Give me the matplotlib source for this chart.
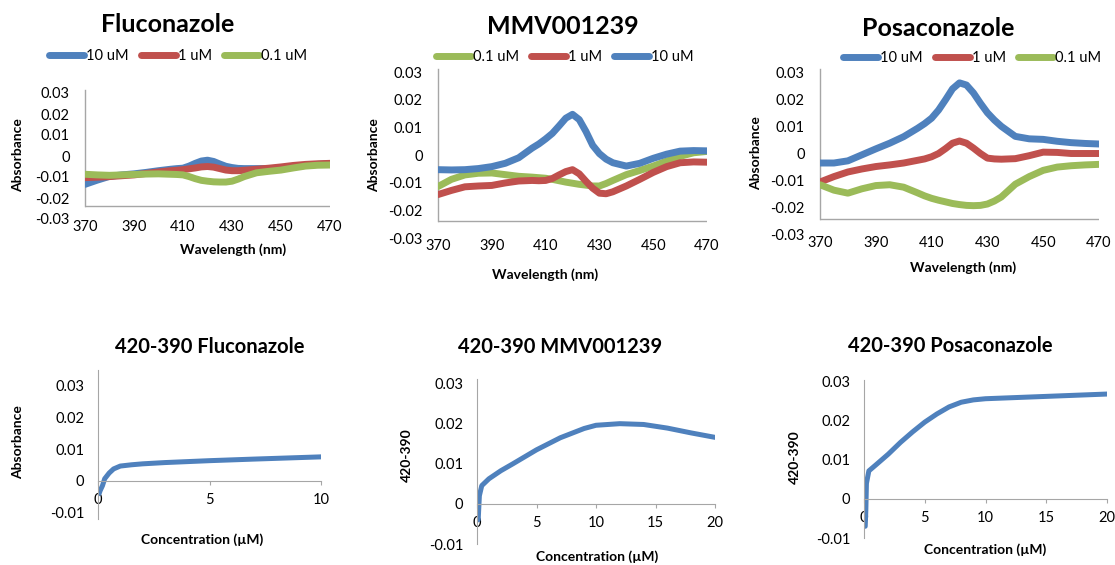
import matplotlib.pyplot as plt

W, H = 1115, 565
plt.rcParams['font.family'] = ['Lato', 'DejaVu Sans']

BLUE = '#4F81BD'
RED = '#C0504D'
GREEN = '#9BBB59'
AXIS = '#A6A6A6'

# wavelength scans (nm)
wl = [370, 375, 380, 385, 390, 395, 400, 405, 407.5, 410, 412.5, 415, 417.5, 420,
      422.5, 425, 427.5, 430, 432.5, 435, 440, 445, 450, 455, 460, 465, 470]

fluc_10 = [-0.0135, -0.0115, -0.0097, -0.009, -0.0085, -0.0078, -0.007, -0.0063, -0.006, -0.0058, -0.0048,
           -0.0035, -0.0024, -0.002, -0.0026, -0.0038, -0.0049, -0.0055, -0.0059, -0.006, -0.006, -0.006,
           -0.0058, -0.005, -0.0045, -0.004, -0.0037]
fluc_1 = [-0.0103, -0.0101, -0.0098, -0.0094, -0.009, -0.0083, -0.0076, -0.007, -0.0068, -0.0065, -0.0061,
          -0.0057, -0.0052, -0.005, -0.0053, -0.006, -0.0067, -0.007, -0.007, -0.0068, -0.0063, -0.0058,
          -0.0052, -0.0045, -0.004, -0.0037, -0.0035]
fluc_01 = [-0.0087, -0.009, -0.0092, -0.009, -0.0088, -0.0086, -0.0085, -0.0087, -0.0088, -0.009, -0.0098,
           -0.0108, -0.0116, -0.012, -0.0123, -0.0124, -0.0124, -0.012, -0.011, -0.0098, -0.008, -0.0073,
           -0.0067, -0.0057, -0.0048, -0.0044, -0.0043]

mmv_01 = [-0.0114, -0.0088, -0.0072, -0.0066, -0.0065, -0.0071, -0.0077, -0.008, -0.0082, -0.0084, -0.0088,
          -0.0093, -0.0098, -0.0102, -0.0106, -0.0109, -0.0112, -0.0112, -0.0103, -0.0092, -0.0071, -0.0056,
          -0.004, -0.0022, -0.0005, 0.0008, 0.0013]
mmv_1 = [-0.0143, -0.0128, -0.0115, -0.0112, -0.011, -0.0101, -0.0094, -0.0092, -0.0093, -0.0092, -0.0085,
         -0.0072, -0.006, -0.0053, -0.0068, -0.0095, -0.012, -0.0138, -0.014, -0.0133, -0.0112, -0.0088,
         -0.0063, -0.0042, -0.0028, -0.0025, -0.0026]
mmv_10 = [-0.0053, -0.0054, -0.0053, -0.0049, -0.0042, -0.003, -0.001, 0.0025, 0.004, 0.0058, 0.0078,
          0.0105, 0.0133, 0.0147, 0.0128, 0.0085, 0.0035, 0.0005, -0.0015, -0.0028, -0.004, -0.003,
          -0.0012, 0.0003, 0.0014, 0.0016, 0.0015]

posa_10 = [-0.0035, -0.0035, -0.0027, -0.0005, 0.0017, 0.0038, 0.0062, 0.0093, 0.011, 0.013, 0.016,
           0.0198, 0.0238, 0.026, 0.0252, 0.0223, 0.0185, 0.015, 0.0123, 0.01, 0.0063, 0.0054,
           0.0052, 0.0045, 0.004, 0.0037, 0.0035]
posa_1 = [-0.0105, -0.0085, -0.0068, -0.0057, -0.0048, -0.0042, -0.0035, -0.0025, -0.002, -0.0012, 0.0,
          0.0018, 0.0038, 0.0046, 0.0038, 0.002, 0.0, -0.0017, -0.002, -0.0021, -0.0019, -0.0008,
          0.0005, 0.0004, 0.0, 0.0, 0.0]
posa_01 = [-0.0115, -0.0135, -0.0146, -0.013, -0.0118, -0.0115, -0.0124, -0.0145, -0.0156, -0.0165, -0.0172,
           -0.0178, -0.0184, -0.0188, -0.0191, -0.0192, -0.0191, -0.0186, -0.0175, -0.016, -0.0113, -0.0085,
           -0.0062, -0.005, -0.0045, -0.0042, -0.004]

# 420-390 difference vs concentration (uM)
fluc_c = [0.05, 0.1, 0.2, 0.3, 0.5, 0.7, 1, 1.5, 2, 3, 5, 7, 10]
fluc_d = [-0.004, -0.003, -0.0015, 0.0007, 0.0025, 0.0038, 0.0047, 0.0051, 0.0054, 0.0058, 0.0064, 0.0069, 0.0076]

mmv_c = [0.1, 0.15, 0.2, 0.4, 1, 2, 3, 5, 7, 9, 10, 12, 14, 16, 18, 20]
mmv_d = [-0.004, -0.001, 0.002, 0.0045, 0.0062, 0.0082, 0.0099, 0.0134, 0.0164, 0.0187, 0.0195,
         0.0199, 0.0197, 0.0188, 0.0176, 0.0165]

posa_c = [0.1, 0.15, 0.2, 0.4, 1, 2, 3, 4, 5, 6, 7, 8, 9, 10, 15, 20]
posa_d = [-0.007, -0.003, 0.004, 0.0072, 0.0088, 0.0115, 0.0145, 0.0172, 0.0197, 0.0218, 0.0236,
          0.0248, 0.0254, 0.0257, 0.0263, 0.0269]

wl_ticks = [370, 390, 410, 430, 450, 470]
top_yticks = [-0.03, -0.02, -0.01, 0, 0.01, 0.02, 0.03]
top_ylabels = ['-0.03', '-0.02', '-0.01', '0', '0.01', '0.02', '0.03']
bot_yticks = [-0.01, 0, 0.01, 0.02, 0.03]
bot_ylabels = ['-0.01', '0', '0.01', '0.02', '0.03']

fig = plt.figure(figsize=(W / 100, H / 100), dpi=100)


def box(x0, y0, x1, y1):
    return [x0 / W, 1 - y1 / H, (x1 - x0) / W, (y1 - y0) / H]


def ftext(x, y, s, **kw):
    fig.text(x / W, 1 - y / H, s, ha='center', va='center', **kw)


def spectrum(rect, series, title, title_xy, leg_xy, ylab_xy, xlab_xy):
    ax = fig.add_axes(box(*rect))
    for label, vals, c in series:
        ax.plot(wl, vals, color=c, lw=5, label=label, solid_capstyle='round', solid_joinstyle='round')
    ax.set_xlim(370, 470)
    ax.set_ylim(-0.03, 0.03)
    for s in ax.spines.values():
        s.set_visible(False)
    ax.axhline(-0.024, color=AXIS, lw=1, zorder=0)
    ax.axvline(370, ymin=0.1, ymax=1.02, color=AXIS, lw=1, clip_on=False, zorder=0)
    ax.set_xticks(wl_ticks)
    ax.set_yticks(top_yticks)
    ax.set_yticklabels(top_ylabels)
    ax.tick_params(length=0, labelsize=10.5)
    ax.tick_params(axis='x', pad=1)
    ax.tick_params(axis='y', pad=11)
    ax.legend(loc='center', bbox_to_anchor=(leg_xy[0] / W, 1 - leg_xy[1] / H), bbox_transform=fig.transFigure,
              ncol=3, frameon=False, fontsize=10.5, handlelength=2.4, handletextpad=0.15, columnspacing=0.8,
              borderaxespad=0)
    ftext(*title_xy, title, fontsize=18, fontweight='bold')
    ftext(*ylab_xy, 'Absorbance', fontsize=10, fontweight='bold', rotation=90)
    ftext(*xlab_xy, 'Wavelength (nm)', fontsize=10, fontweight='bold')


def titration(rect, x, y, ylim, xticks, title, title_xy, ylab, ylab_xy, xlab_xy):
    ax = fig.add_axes(box(*rect))
    ax.plot(x, y, color=BLUE, lw=3.6, solid_capstyle='round', solid_joinstyle='round')
    ax.set_xlim(0, xticks[-1])
    ax.set_ylim(*ylim)
    ax.spines['top'].set_visible(False)
    ax.spines['right'].set_visible(False)
    ax.spines['bottom'].set_position(('data', 0))
    ax.spines['bottom'].set_color(AXIS)
    ax.spines['left'].set_color(AXIS)
    ax.set_xticks(xticks)
    ax.set_xticklabels([str(t) for t in xticks])
    ax.set_yticks(bot_yticks)
    ax.set_yticklabels(bot_ylabels)
    ax.tick_params(labelsize=10.5)
    ax.tick_params(axis='x', length=3, color=AXIS, pad=6)
    ax.tick_params(axis='y', length=0, pad=10)
    ftext(*title_xy, title, fontsize=14.5, fontweight='bold')
    ftext(*ylab_xy, ylab, fontsize=10, fontweight='bold', rotation=90)
    ftext(*xlab_xy, 'Concentration (\u00b5M)', fontsize=10, fontweight='bold')


spectrum((85, 93, 330, 219),
         [('10 uM', fluc_10, BLUE), ('1 uM', fluc_1, RED), ('0.1 uM', fluc_01, GREEN)],
         'Fluconazole', (168, 25), (178, 56), (18, 155), (233, 250))
spectrum((438, 72, 707, 238),
         [('0.1 uM', mmv_01, GREEN), ('1 uM', mmv_1, RED), ('10 uM', mmv_10, BLUE)],
         'MMV001239', (563, 27), (565, 57), (374, 155), (545, 275))
spectrum((820, 72, 1099, 235),
         [('10 uM', posa_10, BLUE), ('1 uM', posa_1, RED), ('0.1 uM', posa_01, GREEN)],
         'Posaconazole', (938, 28), (972, 58), (756, 153), (963, 268))

titration((98, 370, 321, 519), fluc_c, fluc_d, (-0.012, 0.035), [0, 5, 10],
          '420-390 Fluconazole', (210, 347), 'Absorbance', (18, 442), (202, 540))
titration((477, 379, 715, 544), mmv_c, mmv_d, (-0.01, 0.031), [0, 5, 10, 15, 20],
          '420-390 MMV001239', (560, 347), '420-390', (407, 455), (597, 557))
titration((864, 380, 1107, 538), posa_c, posa_d, (-0.01, 0.0305), [0, 5, 10, 15, 20],
          '420-390 Posaconazole', (950, 346), '420-390', (795, 457), (985, 550))

fig.savefig('out.png', dpi=100)
